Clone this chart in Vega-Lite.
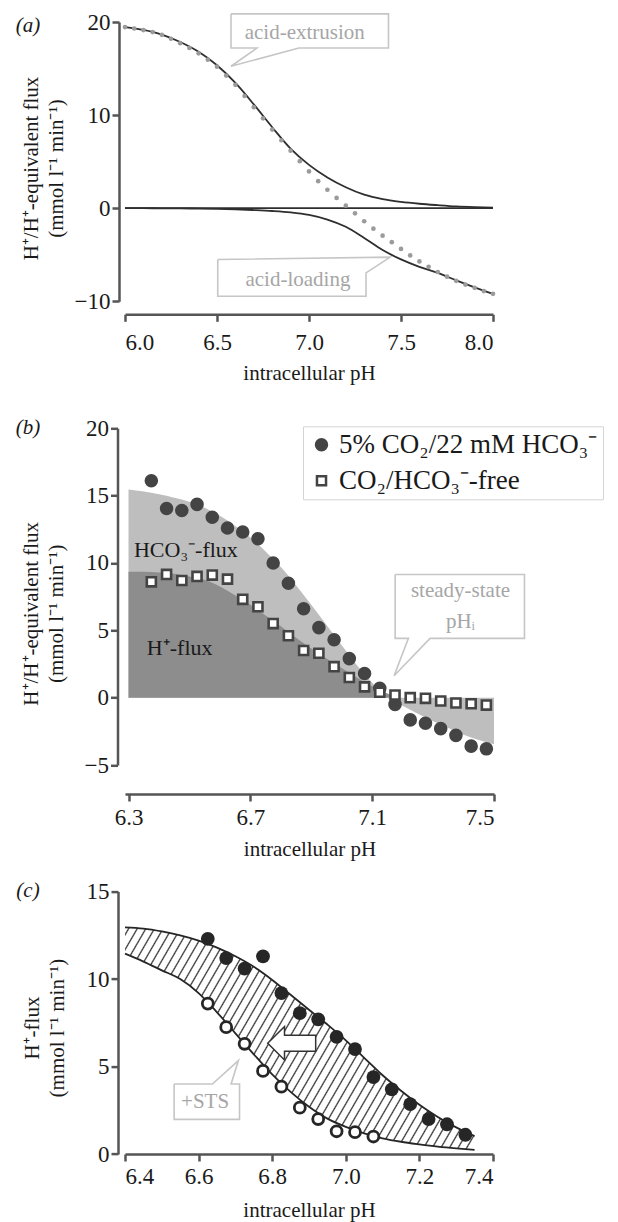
{
  "$schema": "https://vega.github.io/schema/vega-lite/v6.json",
  "background": "white",
  "padding": {"left": 15, "top": 10, "right": 0, "bottom": 2},
  "config": {
    "view": {"stroke": null},
    "font": "Liberation Serif",
    "axis": {"grid": false, "domainColor": "#555555", "domainWidth": 2.5, "tickColor": "#555555", "tickWidth": 2.5, "tickSize": 7, "labelFont": "Liberation Serif", "labelFontSize": 23, "labelColor": "#1a1a1a", "titleFont": "Liberation Serif", "titleFontSize": 21, "titleFontWeight": "normal", "titleColor": "#1a1a1a", "labelPadding": 2, "titleLineHeight": 25}
  },
  "datasets": {
    "a_curves": [
      {"curve": "ext", "pH": 6.0, "v": 19.45}, {"curve": "ext", "pH": 6.1, "v": 19.15}, {"curve": "ext", "pH": 6.2, "v": 18.65}, {"curve": "ext", "pH": 6.3, "v": 17.85}, {"curve": "ext", "pH": 6.4, "v": 16.8}, {"curve": "ext", "pH": 6.5, "v": 15.35}, {"curve": "ext", "pH": 6.6, "v": 13.45}, {"curve": "ext", "pH": 6.7, "v": 11.15}, {"curve": "ext", "pH": 6.8, "v": 8.7}, {"curve": "ext", "pH": 6.9, "v": 6.4}, {"curve": "ext", "pH": 7.0, "v": 4.65}, {"curve": "ext", "pH": 7.1, "v": 3.3}, {"curve": "ext", "pH": 7.2, "v": 2.25}, {"curve": "ext", "pH": 7.3, "v": 1.45}, {"curve": "ext", "pH": 7.4, "v": 0.97}, {"curve": "ext", "pH": 7.5, "v": 0.68}, {"curve": "ext", "pH": 7.6, "v": 0.48}, {"curve": "ext", "pH": 7.7, "v": 0.33}, {"curve": "ext", "pH": 7.8, "v": 0.2}, {"curve": "ext", "pH": 7.9, "v": 0.12}, {"curve": "ext", "pH": 8.0, "v": 0.07},
      {"curve": "load", "pH": 6.0, "v": 0}, {"curve": "load", "pH": 6.1, "v": 0}, {"curve": "load", "pH": 6.2, "v": -0.01}, {"curve": "load", "pH": 6.3, "v": -0.02}, {"curve": "load", "pH": 6.4, "v": -0.04}, {"curve": "load", "pH": 6.5, "v": -0.07}, {"curve": "load", "pH": 6.6, "v": -0.12}, {"curve": "load", "pH": 6.7, "v": -0.2}, {"curve": "load", "pH": 6.8, "v": -0.3}, {"curve": "load", "pH": 6.9, "v": -0.45}, {"curve": "load", "pH": 7.0, "v": -0.72}, {"curve": "load", "pH": 7.1, "v": -1.22}, {"curve": "load", "pH": 7.2, "v": -2.0}, {"curve": "load", "pH": 7.3, "v": -3.2}, {"curve": "load", "pH": 7.4, "v": -4.5}, {"curve": "load", "pH": 7.5, "v": -5.5}, {"curve": "load", "pH": 7.6, "v": -6.3}, {"curve": "load", "pH": 7.7, "v": -6.95}, {"curve": "load", "pH": 7.8, "v": -7.75}, {"curve": "load", "pH": 7.9, "v": -8.5}, {"curve": "load", "pH": 8.0, "v": -9.2},
      {"curve": "zero", "pH": 6.0, "v": 0}, {"curve": "zero", "pH": 8.0, "v": 0}
    ],
    "a_dots": [
      {"pH": 6.0, "v": 19.45}, {"pH": 6.05, "v": 19.3}, {"pH": 6.1, "v": 19.13}, {"pH": 6.15, "v": 18.92}, {"pH": 6.2, "v": 18.62}, {"pH": 6.25, "v": 18.2}, {"pH": 6.3, "v": 17.73}, {"pH": 6.35, "v": 17.22}, {"pH": 6.4, "v": 16.63}, {"pH": 6.45, "v": 15.95}, {"pH": 6.5, "v": 15.2}, {"pH": 6.55, "v": 14.25}, {"pH": 6.6, "v": 13.25}, {"pH": 6.65, "v": 12.05}, {"pH": 6.7, "v": 10.85}, {"pH": 6.75, "v": 9.65}, {"pH": 6.8, "v": 8.45}, {"pH": 6.85, "v": 7.3}, {"pH": 6.9, "v": 6.18}, {"pH": 6.95, "v": 5.05}, {"pH": 7.0, "v": 3.95}, {"pH": 7.05, "v": 2.9}, {"pH": 7.1, "v": 1.98}, {"pH": 7.15, "v": 1.1}, {"pH": 7.2, "v": 0.27}, {"pH": 7.25, "v": -0.55}, {"pH": 7.3, "v": -1.4}, {"pH": 7.35, "v": -2.2}, {"pH": 7.4, "v": -2.95}, {"pH": 7.45, "v": -3.65}, {"pH": 7.5, "v": -4.37}, {"pH": 7.55, "v": -5.07}, {"pH": 7.6, "v": -5.72}, {"pH": 7.65, "v": -6.3}, {"pH": 7.7, "v": -6.85}, {"pH": 7.75, "v": -7.35}, {"pH": 7.8, "v": -7.8}, {"pH": 7.85, "v": -8.2}, {"pH": 7.9, "v": -8.55}, {"pH": 7.95, "v": -8.9}, {"pH": 8.0, "v": -9.2}
    ],
    "a_boxes": [
      {"box": "ext", "i": 0, "pH": 6.576, "v": 20.87}, {"box": "ext", "i": 1, "pH": 7.432, "v": 20.87}, {"box": "ext", "i": 2, "pH": 7.432, "v": 17.2}, {"box": "ext", "i": 3, "pH": 6.945, "v": 17.2}, {"box": "ext", "i": 4, "pH": 6.576, "v": 15.25}, {"box": "ext", "i": 5, "pH": 6.717, "v": 17.2}, {"box": "ext", "i": 6, "pH": 6.576, "v": 17.2}, {"box": "ext", "i": 7, "pH": 6.576, "v": 20.87},
      {"box": "load", "i": 0, "pH": 6.504, "v": -5.51}, {"box": "load", "i": 1, "pH": 7.441, "v": -5.26}, {"box": "load", "i": 2, "pH": 7.31, "v": -6.95}, {"box": "load", "i": 3, "pH": 7.31, "v": -9.45}, {"box": "load", "i": 4, "pH": 6.504, "v": -9.45}, {"box": "load", "i": 5, "pH": 6.504, "v": -5.51}
    ],
    "a_notes": [
      {"pH": 6.977, "v": 18.83, "label": "acid-extrusion"},
      {"pH": 6.94, "v": -7.66, "label": "acid-loading"}
    ],
    "b_light": [
      {"pH": 6.3, "v": 15.45}, {"pH": 6.35, "v": 15.3}, {"pH": 6.4, "v": 15.1}, {"pH": 6.45, "v": 14.85}, {"pH": 6.5, "v": 14.55}, {"pH": 6.55, "v": 14.1}, {"pH": 6.6, "v": 13.5}, {"pH": 6.65, "v": 12.75}, {"pH": 6.7, "v": 11.9}, {"pH": 6.75, "v": 10.85}, {"pH": 6.8, "v": 9.7}, {"pH": 6.85, "v": 8.35}, {"pH": 6.9, "v": 6.9}, {"pH": 6.95, "v": 5.4}, {"pH": 7.0, "v": 3.9}, {"pH": 7.05, "v": 2.4}, {"pH": 7.1, "v": 1.1}, {"pH": 7.15, "v": 0.0}, {"pH": 7.2, "v": -0.6}, {"pH": 7.25, "v": -1.2}, {"pH": 7.3, "v": -1.75}, {"pH": 7.35, "v": -2.25}, {"pH": 7.4, "v": -2.75}, {"pH": 7.45, "v": -3.15}, {"pH": 7.5, "v": -3.45}
    ],
    "b_dark": [
      {"pH": 6.3, "v": 9.35}, {"pH": 6.35, "v": 9.35}, {"pH": 6.4, "v": 9.3}, {"pH": 6.45, "v": 9.2}, {"pH": 6.5, "v": 9.0}, {"pH": 6.55, "v": 8.75}, {"pH": 6.6, "v": 8.25}, {"pH": 6.65, "v": 7.6}, {"pH": 6.7, "v": 6.9}, {"pH": 6.75, "v": 6.1}, {"pH": 6.8, "v": 5.3}, {"pH": 6.85, "v": 4.45}, {"pH": 6.9, "v": 3.65}, {"pH": 6.95, "v": 2.9}, {"pH": 7.0, "v": 2.2}, {"pH": 7.05, "v": 1.5}, {"pH": 7.1, "v": 0.85}, {"pH": 7.15, "v": 0.3}, {"pH": 7.18, "v": 0.0}
    ],
    "b_pts": [
      {"cond": "5% CO₂/22 mM HCO₃⁻", "pH": 6.375, "v": 16.1}, {"cond": "5% CO₂/22 mM HCO₃⁻", "pH": 6.425, "v": 14.05}, {"cond": "5% CO₂/22 mM HCO₃⁻", "pH": 6.475, "v": 13.9}, {"cond": "5% CO₂/22 mM HCO₃⁻", "pH": 6.525, "v": 14.35}, {"cond": "5% CO₂/22 mM HCO₃⁻", "pH": 6.575, "v": 13.4}, {"cond": "5% CO₂/22 mM HCO₃⁻", "pH": 6.625, "v": 12.6}, {"cond": "5% CO₂/22 mM HCO₃⁻", "pH": 6.675, "v": 12.3}, {"cond": "5% CO₂/22 mM HCO₃⁻", "pH": 6.725, "v": 11.8}, {"cond": "5% CO₂/22 mM HCO₃⁻", "pH": 6.775, "v": 10.0}, {"cond": "5% CO₂/22 mM HCO₃⁻", "pH": 6.825, "v": 8.5}, {"cond": "5% CO₂/22 mM HCO₃⁻", "pH": 6.875, "v": 6.6}, {"cond": "5% CO₂/22 mM HCO₃⁻", "pH": 6.925, "v": 5.2}, {"cond": "5% CO₂/22 mM HCO₃⁻", "pH": 6.975, "v": 4.3}, {"cond": "5% CO₂/22 mM HCO₃⁻", "pH": 7.025, "v": 2.9}, {"cond": "5% CO₂/22 mM HCO₃⁻", "pH": 7.075, "v": 1.8}, {"cond": "5% CO₂/22 mM HCO₃⁻", "pH": 7.125, "v": 0.7}, {"cond": "5% CO₂/22 mM HCO₃⁻", "pH": 7.175, "v": -0.5}, {"cond": "5% CO₂/22 mM HCO₃⁻", "pH": 7.225, "v": -1.65}, {"cond": "5% CO₂/22 mM HCO₃⁻", "pH": 7.275, "v": -1.9}, {"cond": "5% CO₂/22 mM HCO₃⁻", "pH": 7.325, "v": -2.3}, {"cond": "5% CO₂/22 mM HCO₃⁻", "pH": 7.375, "v": -2.8}, {"cond": "5% CO₂/22 mM HCO₃⁻", "pH": 7.425, "v": -3.6}, {"cond": "5% CO₂/22 mM HCO₃⁻", "pH": 7.475, "v": -3.8},
      {"cond": "CO₂/HCO₃⁻-free", "pH": 6.375, "v": 8.6}, {"cond": "CO₂/HCO₃⁻-free", "pH": 6.425, "v": 9.15}, {"cond": "CO₂/HCO₃⁻-free", "pH": 6.475, "v": 8.7}, {"cond": "CO₂/HCO₃⁻-free", "pH": 6.525, "v": 9.0}, {"cond": "CO₂/HCO₃⁻-free", "pH": 6.575, "v": 9.1}, {"cond": "CO₂/HCO₃⁻-free", "pH": 6.625, "v": 8.8}, {"cond": "CO₂/HCO₃⁻-free", "pH": 6.675, "v": 7.3}, {"cond": "CO₂/HCO₃⁻-free", "pH": 6.725, "v": 6.75}, {"cond": "CO₂/HCO₃⁻-free", "pH": 6.775, "v": 5.5}, {"cond": "CO₂/HCO₃⁻-free", "pH": 6.825, "v": 4.6}, {"cond": "CO₂/HCO₃⁻-free", "pH": 6.875, "v": 3.5}, {"cond": "CO₂/HCO₃⁻-free", "pH": 6.925, "v": 3.3}, {"cond": "CO₂/HCO₃⁻-free", "pH": 6.975, "v": 2.3}, {"cond": "CO₂/HCO₃⁻-free", "pH": 7.025, "v": 1.5}, {"cond": "CO₂/HCO₃⁻-free", "pH": 7.075, "v": 0.8}, {"cond": "CO₂/HCO₃⁻-free", "pH": 7.125, "v": 0.4}, {"cond": "CO₂/HCO₃⁻-free", "pH": 7.175, "v": 0.2}, {"cond": "CO₂/HCO₃⁻-free", "pH": 7.225, "v": 0.0}, {"cond": "CO₂/HCO₃⁻-free", "pH": 7.275, "v": -0.05}, {"cond": "CO₂/HCO₃⁻-free", "pH": 7.325, "v": -0.25}, {"cond": "CO₂/HCO₃⁻-free", "pH": 7.375, "v": -0.4}, {"cond": "CO₂/HCO₃⁻-free", "pH": 7.425, "v": -0.45}, {"cond": "CO₂/HCO₃⁻-free", "pH": 7.475, "v": -0.55}
    ],
    "b_box": [
      {"i": 0, "pH": 7.1755, "v": 9.15}, {"i": 1, "pH": 7.6, "v": 9.15}, {"i": 2, "pH": 7.6, "v": 4.4}, {"i": 3, "pH": 7.29, "v": 4.4}, {"i": 4, "pH": 7.172, "v": 1.63}, {"i": 5, "pH": 7.219, "v": 4.4}, {"i": 6, "pH": 7.1755, "v": 4.4}, {"i": 7, "pH": 7.1755, "v": 9.15}
    ],
    "b_notes": [
      {"pH": 7.39, "v": 7.92, "label": "steady-state"},
      {"pH": 7.39, "v": 5.64, "label": "pHᵢ"}
    ],
    "b_labels": [
      {"pH": 6.4885, "v": 10.97, "label": "HCO₃⁻-flux"},
      {"pH": 6.468, "v": 3.66, "label": "H⁺-flux"}
    ],
    "c_band": [
      {"pH": 6.4, "v": 12.95, "v2": 11.45}, {"pH": 6.45, "v": 12.88, "v2": 11.0}, {"pH": 6.5, "v": 12.72, "v2": 10.5}, {"pH": 6.55, "v": 12.5, "v2": 10.0}, {"pH": 6.6, "v": 12.2, "v2": 9.2}, {"pH": 6.65, "v": 11.8, "v2": 8.1}, {"pH": 6.7, "v": 11.3, "v2": 6.9}, {"pH": 6.75, "v": 10.7, "v2": 5.7}, {"pH": 6.8, "v": 9.95, "v2": 4.55}, {"pH": 6.85, "v": 9.1, "v2": 3.55}, {"pH": 6.9, "v": 8.25, "v2": 2.7}, {"pH": 6.95, "v": 7.4, "v2": 2.02}, {"pH": 7.0, "v": 6.5, "v2": 1.55}, {"pH": 7.05, "v": 5.5, "v2": 1.18}, {"pH": 7.1, "v": 4.5, "v2": 0.9}, {"pH": 7.15, "v": 3.62, "v2": 0.7}, {"pH": 7.2, "v": 2.82, "v2": 0.55}, {"pH": 7.25, "v": 2.12, "v2": 0.42}, {"pH": 7.3, "v": 1.52, "v2": 0.32}, {"pH": 7.35, "v": 1.02, "v2": 0.24}
    ],
    "c_lines": [
      {"curve": "upper", "pH": 6.4, "v": 12.95}, {"curve": "upper", "pH": 6.45, "v": 12.88}, {"curve": "upper", "pH": 6.5, "v": 12.72}, {"curve": "upper", "pH": 6.55, "v": 12.5}, {"curve": "upper", "pH": 6.6, "v": 12.2}, {"curve": "upper", "pH": 6.65, "v": 11.8}, {"curve": "upper", "pH": 6.7, "v": 11.3}, {"curve": "upper", "pH": 6.75, "v": 10.7}, {"curve": "upper", "pH": 6.8, "v": 9.95}, {"curve": "upper", "pH": 6.85, "v": 9.1}, {"curve": "upper", "pH": 6.9, "v": 8.25}, {"curve": "upper", "pH": 6.95, "v": 7.4}, {"curve": "upper", "pH": 7.0, "v": 6.5}, {"curve": "upper", "pH": 7.05, "v": 5.5}, {"curve": "upper", "pH": 7.1, "v": 4.5}, {"curve": "upper", "pH": 7.15, "v": 3.62}, {"curve": "upper", "pH": 7.2, "v": 2.82}, {"curve": "upper", "pH": 7.25, "v": 2.12}, {"curve": "upper", "pH": 7.3, "v": 1.52}, {"curve": "upper", "pH": 7.35, "v": 1.02},
      {"curve": "lower", "pH": 6.4, "v": 11.45}, {"curve": "lower", "pH": 6.45, "v": 11.0}, {"curve": "lower", "pH": 6.5, "v": 10.5}, {"curve": "lower", "pH": 6.55, "v": 10.0}, {"curve": "lower", "pH": 6.6, "v": 9.2}, {"curve": "lower", "pH": 6.65, "v": 8.1}, {"curve": "lower", "pH": 6.7, "v": 6.9}, {"curve": "lower", "pH": 6.75, "v": 5.7}, {"curve": "lower", "pH": 6.8, "v": 4.55}, {"curve": "lower", "pH": 6.85, "v": 3.55}, {"curve": "lower", "pH": 6.9, "v": 2.7}, {"curve": "lower", "pH": 6.95, "v": 2.02}, {"curve": "lower", "pH": 7.0, "v": 1.55}, {"curve": "lower", "pH": 7.05, "v": 1.18}, {"curve": "lower", "pH": 7.1, "v": 0.9}, {"curve": "lower", "pH": 7.15, "v": 0.7}, {"curve": "lower", "pH": 7.2, "v": 0.55}, {"curve": "lower", "pH": 7.25, "v": 0.42}, {"curve": "lower", "pH": 7.3, "v": 0.32}, {"curve": "lower", "pH": 7.35, "v": 0.24}
    ],
    "c_ctrl": [
      {"pH": 6.625, "v": 12.3}, {"pH": 6.675, "v": 11.2}, {"pH": 6.725, "v": 10.6}, {"pH": 6.775, "v": 11.3}, {"pH": 6.825, "v": 9.2}, {"pH": 6.875, "v": 8.05}, {"pH": 6.925, "v": 7.7}, {"pH": 6.975, "v": 6.7}, {"pH": 7.025, "v": 6.0}, {"pH": 7.075, "v": 4.4}, {"pH": 7.125, "v": 3.7}, {"pH": 7.175, "v": 2.85}, {"pH": 7.225, "v": 2.0}, {"pH": 7.275, "v": 1.7}, {"pH": 7.325, "v": 1.1}
    ],
    "c_sts": [
      {"pH": 6.625, "v": 8.6}, {"pH": 6.675, "v": 7.25}, {"pH": 6.725, "v": 6.3}, {"pH": 6.775, "v": 4.75}, {"pH": 6.825, "v": 3.85}, {"pH": 6.875, "v": 2.65}, {"pH": 6.925, "v": 2.0}, {"pH": 6.975, "v": 1.3}, {"pH": 7.025, "v": 1.25}, {"pH": 7.075, "v": 1.0}
    ],
    "c_box": [
      {"i": 0, "pH": 6.5335, "v": 4.0}, {"i": 1, "pH": 6.6375, "v": 4.0}, {"i": 2, "pH": 6.7081, "v": 5.34}, {"i": 3, "pH": 6.6884, "v": 4.0}, {"i": 4, "pH": 6.7112, "v": 4.0}, {"i": 5, "pH": 6.7112, "v": 1.98}, {"i": 6, "pH": 6.5335, "v": 1.98}, {"i": 7, "pH": 6.5335, "v": 4.0}
    ]
  },
  "vconcat": [
    {
      "width": 368,
      "height": 279.3,
      "encoding": {
        "x": {"field": "pH", "type": "quantitative", "scale": {"domain": [6, 8], "nice": false, "zero": false}, "axis": {"values": [6, 6.5, 7, 7.5, 8], "format": ".1f", "offset": 13, "title": "intracellular pH", "labelPadding": 10, "titlePadding": 8}},
        "y": {"field": "v", "type": "quantitative", "scale": {"domain": [-10, 20], "nice": false, "zero": false}, "axis": {"values": [-10, 0, 10, 20], "offset": 6, "title": ["H⁺/H⁺-equivalent flux", "(mmol l⁻¹ min⁻¹)"], "titlePadding": 8, "titleY": 146}}
      },
      "layer": [
        {"data": {"name": "a_curves"}, "mark": {"type": "line", "color": "#2e2e2e", "strokeWidth": 1.8, "interpolate": "monotone"}, "encoding": {"detail": {"field": "curve"}}},
        {"data": {"name": "a_dots"}, "mark": {"type": "point", "filled": true, "color": "#9b9b9b", "size": 22, "opacity": 1}},
        {"data": {"name": "a_boxes"}, "mark": {"type": "line", "color": "#c6c6c6", "strokeWidth": 1.6}, "encoding": {"detail": {"field": "box"}, "order": {"field": "i"}}},
        {"data": {"name": "a_notes"}, "mark": {"type": "text", "color": "#a6a6a6", "fontSize": 21, "font": "Liberation Serif"}, "encoding": {"text": {"field": "label"}}},
        {"data": {"values": [{"pH": 5.473, "v": 19.55, "label": "(a)"}]}, "mark": {"type": "text", "color": "#1a1a1a", "fontSize": 21, "fontStyle": "italic", "font": "Liberation Serif"}, "encoding": {"text": {"field": "label"}}}
      ]
    },
    {
      "width": 369,
      "height": 336.7,
      "encoding": {
        "x": {"field": "pH", "type": "quantitative", "scale": {"domain": [6.2885, 7.5], "nice": false, "zero": false}, "axis": {"values": [6.3, 6.7, 7.1, 7.5], "format": ".1f", "offset": 29, "title": "intracellular pH", "labelPadding": 5, "titlePadding": 9}},
        "y": {"field": "v", "type": "quantitative", "scale": {"domain": [-5, 20], "nice": false, "zero": false}, "axis": {"values": [-5, 0, 5, 10, 15, 20], "offset": 7.5, "title": ["H⁺/H⁺-equivalent flux", "(mmol l⁻¹ min⁻¹)"], "titlePadding": 18, "titleY": 185}}
      },
      "layer": [
        {"data": {"name": "b_light"}, "mark": {"type": "area", "color": "#bebebe", "opacity": 1, "interpolate": "monotone"}, "encoding": {"y2": {"datum": 0}}},
        {"data": {"name": "b_dark"}, "mark": {"type": "area", "color": "#8d8d8d", "opacity": 1, "interpolate": "monotone"}, "encoding": {"y2": {"datum": 0}}},
        {"data": {"name": "b_labels"}, "mark": {"type": "text", "color": "#1a1a1a", "fontSize": 22, "font": "Liberation Serif"}, "encoding": {"text": {"field": "label"}}},
        {"data": {"name": "b_box"}, "mark": {"type": "line", "color": "#c6c6c6", "strokeWidth": 1.6}, "encoding": {"order": {"field": "i"}}},
        {"data": {"name": "b_notes"}, "mark": {"type": "text", "color": "#a6a6a6", "fontSize": 21, "font": "Liberation Serif"}, "encoding": {"text": {"field": "label"}}},
        {"data": {"name": "b_pts"}, "mark": {"type": "point", "filled": true, "stroke": "#444444", "strokeWidth": 2.6, "opacity": 1},
          "encoding": {
            "shape": {"field": "cond", "type": "nominal", "scale": {"domain": ["5% CO₂/22 mM HCO₃⁻", "CO₂/HCO₃⁻-free"], "range": ["circle", "square"]},
              "legend": {"orient": "none", "legendX": 178, "legendY": 404.3, "title": null, "padding": 5, "strokeColor": "#d4d4d4", "fillColor": "white", "labelFont": "Liberation Serif", "labelFontSize": 27, "labelColor": "#1a1a1a", "rowPadding": 8, "labelOffset": 4, "labelLimit": 400, "symbolStrokeColor": "#444444", "symbolStrokeWidth": 2.5, "symbolOpacity": 1}},
            "fill": {"field": "cond", "type": "nominal", "scale": {"domain": ["5% CO₂/22 mM HCO₃⁻", "CO₂/HCO₃⁻-free"], "range": ["#444444", "#ffffff"]}},
            "size": {"field": "cond", "type": "nominal", "scale": {"domain": ["5% CO₂/22 mM HCO₃⁻", "CO₂/HCO₃⁻-free"], "range": [120, 82]}}
          }},
        {"data": {"values": [{"pH": 5.97, "v": 20.0, "label": "(b)"}]}, "mark": {"type": "text", "color": "#1a1a1a", "fontSize": 21, "fontStyle": "italic", "font": "Liberation Serif"}, "encoding": {"text": {"field": "label"}}}
      ]
    },
    {
      "width": 368,
      "height": 262.4,
      "encoding": {
        "x": {"field": "pH", "type": "quantitative", "scale": {"domain": [6.4, 7.4], "nice": false, "zero": false}, "axis": {"values": [6.4, 6.6, 6.8, 7.0, 7.2, 7.4], "format": ".1f", "offset": 0, "title": "intracellular pH", "labelPadding": 4, "titlePadding": 11}},
        "y": {"field": "v", "type": "quantitative", "scale": {"domain": [0, 15], "nice": false, "zero": false}, "axis": {"values": [0, 5, 10, 15], "offset": 7, "title": ["H⁺-flux", "(mmol l⁻¹ min⁻¹)"], "titlePadding": 19, "titleY": 136}}
      },
      "layer": [
        {"data": {"name": "c_band"}, "mark": {"type": "area", "interpolate": "monotone", "opacity": 1,
          "fill": {"gradient": "linear", "x1": 0, "y1": 0, "x2": 1.205, "y2": 0.4434, "stops": [
            {"offset": 0, "color": "#fff"},
            {"offset": 0.006, "color": "#fff"}, {"offset": 0.009, "color": "#333"}, {"offset": 0.012, "color": "#fff"},
            {"offset": 0.024, "color": "#fff"}, {"offset": 0.027, "color": "#333"}, {"offset": 0.030, "color": "#fff"},
            {"offset": 0.042, "color": "#fff"}, {"offset": 0.045, "color": "#333"}, {"offset": 0.048, "color": "#fff"},
            {"offset": 0.060, "color": "#fff"}, {"offset": 0.063, "color": "#333"}, {"offset": 0.066, "color": "#fff"},
            {"offset": 0.078, "color": "#fff"}, {"offset": 0.081, "color": "#333"}, {"offset": 0.084, "color": "#fff"},
            {"offset": 0.096, "color": "#fff"}, {"offset": 0.099, "color": "#333"}, {"offset": 0.102, "color": "#fff"},
            {"offset": 0.114, "color": "#fff"}, {"offset": 0.117, "color": "#333"}, {"offset": 0.120, "color": "#fff"},
            {"offset": 0.132, "color": "#fff"}, {"offset": 0.135, "color": "#333"}, {"offset": 0.138, "color": "#fff"},
            {"offset": 0.150, "color": "#fff"}, {"offset": 0.153, "color": "#333"}, {"offset": 0.156, "color": "#fff"},
            {"offset": 0.168, "color": "#fff"}, {"offset": 0.171, "color": "#333"}, {"offset": 0.174, "color": "#fff"},
            {"offset": 0.186, "color": "#fff"}, {"offset": 0.189, "color": "#333"}, {"offset": 0.192, "color": "#fff"},
            {"offset": 0.204, "color": "#fff"}, {"offset": 0.207, "color": "#333"}, {"offset": 0.210, "color": "#fff"},
            {"offset": 0.222, "color": "#fff"}, {"offset": 0.225, "color": "#333"}, {"offset": 0.228, "color": "#fff"},
            {"offset": 0.240, "color": "#fff"}, {"offset": 0.243, "color": "#333"}, {"offset": 0.246, "color": "#fff"},
            {"offset": 0.258, "color": "#fff"}, {"offset": 0.261, "color": "#333"}, {"offset": 0.264, "color": "#fff"},
            {"offset": 0.276, "color": "#fff"}, {"offset": 0.279, "color": "#333"}, {"offset": 0.282, "color": "#fff"},
            {"offset": 0.294, "color": "#fff"}, {"offset": 0.297, "color": "#333"}, {"offset": 0.300, "color": "#fff"},
            {"offset": 0.312, "color": "#fff"}, {"offset": 0.315, "color": "#333"}, {"offset": 0.318, "color": "#fff"},
            {"offset": 0.330, "color": "#fff"}, {"offset": 0.333, "color": "#333"}, {"offset": 0.336, "color": "#fff"},
            {"offset": 0.348, "color": "#fff"}, {"offset": 0.351, "color": "#333"}, {"offset": 0.354, "color": "#fff"},
            {"offset": 0.366, "color": "#fff"}, {"offset": 0.369, "color": "#333"}, {"offset": 0.372, "color": "#fff"},
            {"offset": 0.384, "color": "#fff"}, {"offset": 0.387, "color": "#333"}, {"offset": 0.390, "color": "#fff"},
            {"offset": 0.402, "color": "#fff"}, {"offset": 0.405, "color": "#333"}, {"offset": 0.408, "color": "#fff"},
            {"offset": 0.420, "color": "#fff"}, {"offset": 0.423, "color": "#333"}, {"offset": 0.426, "color": "#fff"},
            {"offset": 0.438, "color": "#fff"}, {"offset": 0.441, "color": "#333"}, {"offset": 0.444, "color": "#fff"},
            {"offset": 0.456, "color": "#fff"}, {"offset": 0.459, "color": "#333"}, {"offset": 0.462, "color": "#fff"},
            {"offset": 0.474, "color": "#fff"}, {"offset": 0.477, "color": "#333"}, {"offset": 0.480, "color": "#fff"},
            {"offset": 0.492, "color": "#fff"}, {"offset": 0.495, "color": "#333"}, {"offset": 0.498, "color": "#fff"},
            {"offset": 0.510, "color": "#fff"}, {"offset": 0.513, "color": "#333"}, {"offset": 0.516, "color": "#fff"},
            {"offset": 0.528, "color": "#fff"}, {"offset": 0.531, "color": "#333"}, {"offset": 0.534, "color": "#fff"},
            {"offset": 0.546, "color": "#fff"}, {"offset": 0.549, "color": "#333"}, {"offset": 0.552, "color": "#fff"},
            {"offset": 0.564, "color": "#fff"}, {"offset": 0.567, "color": "#333"}, {"offset": 0.570, "color": "#fff"},
            {"offset": 0.582, "color": "#fff"}, {"offset": 0.585, "color": "#333"}, {"offset": 0.588, "color": "#fff"},
            {"offset": 0.600, "color": "#fff"}, {"offset": 0.603, "color": "#333"}, {"offset": 0.606, "color": "#fff"},
            {"offset": 0.618, "color": "#fff"}, {"offset": 0.621, "color": "#333"}, {"offset": 0.624, "color": "#fff"},
            {"offset": 0.636, "color": "#fff"}, {"offset": 0.639, "color": "#333"}, {"offset": 0.642, "color": "#fff"},
            {"offset": 0.654, "color": "#fff"}, {"offset": 0.657, "color": "#333"}, {"offset": 0.660, "color": "#fff"},
            {"offset": 0.672, "color": "#fff"}, {"offset": 0.675, "color": "#333"}, {"offset": 0.678, "color": "#fff"},
            {"offset": 0.690, "color": "#fff"}, {"offset": 0.693, "color": "#333"}, {"offset": 0.696, "color": "#fff"},
            {"offset": 0.708, "color": "#fff"}, {"offset": 0.711, "color": "#333"}, {"offset": 0.714, "color": "#fff"},
            {"offset": 0.726, "color": "#fff"}, {"offset": 0.729, "color": "#333"}, {"offset": 0.732, "color": "#fff"},
            {"offset": 0.744, "color": "#fff"}, {"offset": 0.747, "color": "#333"}, {"offset": 0.750, "color": "#fff"},
            {"offset": 0.762, "color": "#fff"}, {"offset": 0.765, "color": "#333"}, {"offset": 0.768, "color": "#fff"},
            {"offset": 0.780, "color": "#fff"}, {"offset": 0.783, "color": "#333"}, {"offset": 0.786, "color": "#fff"},
            {"offset": 0.798, "color": "#fff"}, {"offset": 0.801, "color": "#333"}, {"offset": 0.804, "color": "#fff"},
            {"offset": 0.816, "color": "#fff"}, {"offset": 0.819, "color": "#333"}, {"offset": 0.822, "color": "#fff"},
            {"offset": 0.834, "color": "#fff"}, {"offset": 0.837, "color": "#333"}, {"offset": 0.840, "color": "#fff"},
            {"offset": 0.852, "color": "#fff"}, {"offset": 0.855, "color": "#333"}, {"offset": 0.858, "color": "#fff"},
            {"offset": 0.870, "color": "#fff"}, {"offset": 0.873, "color": "#333"}, {"offset": 0.876, "color": "#fff"},
            {"offset": 0.888, "color": "#fff"}, {"offset": 0.891, "color": "#333"}, {"offset": 0.894, "color": "#fff"},
            {"offset": 0.906, "color": "#fff"}, {"offset": 0.909, "color": "#333"}, {"offset": 0.912, "color": "#fff"},
            {"offset": 0.924, "color": "#fff"}, {"offset": 0.927, "color": "#333"}, {"offset": 0.930, "color": "#fff"},
            {"offset": 0.942, "color": "#fff"}, {"offset": 0.945, "color": "#333"}, {"offset": 0.948, "color": "#fff"},
            {"offset": 0.960, "color": "#fff"}, {"offset": 0.963, "color": "#333"}, {"offset": 0.966, "color": "#fff"},
            {"offset": 0.978, "color": "#fff"}, {"offset": 0.981, "color": "#333"}, {"offset": 0.984, "color": "#fff"},
            {"offset": 1, "color": "#fff"}
          ]}}, "encoding": {"y2": {"field": "v2"}}},
        {"data": {"name": "c_lines"}, "mark": {"type": "line", "color": "#262626", "strokeWidth": 1.8, "interpolate": "monotone"}, "encoding": {"detail": {"field": "curve"}}},
        {"data": {"name": "c_ctrl"}, "mark": {"type": "point", "filled": true, "color": "#262626", "size": 190, "opacity": 1}},
        {"data": {"name": "c_sts"}, "mark": {"type": "point", "filled": true, "fill": "white", "stroke": "#262626", "strokeWidth": 2.8, "size": 120, "opacity": 1}},
        {"data": {"values": [{"pH": 6.853, "v": 6.33}]}, "mark": {"type": "point", "shape": "M -1 0 L -0.3 -0.7 L -0.3 -0.33 L 1 -0.33 L 1 0.33 L -0.3 0.33 L -0.3 0.7 Z", "size": 2300, "filled": true, "fill": "white", "stroke": "#333333", "strokeWidth": 1.5, "opacity": 1}},
        {"data": {"name": "c_box"}, "mark": {"type": "line", "color": "#c6c6c6", "strokeWidth": 1.6}, "encoding": {"order": {"field": "i"}}},
        {"data": {"values": [{"pH": 6.6177, "v": 2.96, "label": "+STS"}]}, "mark": {"type": "text", "color": "#a6a6a6", "fontSize": 21, "font": "Liberation Serif"}, "encoding": {"text": {"field": "label"}}},
        {"data": {"values": [{"pH": 6.1364, "v": 15.06, "label": "(c)"}]}, "mark": {"type": "text", "color": "#1a1a1a", "fontSize": 21, "fontStyle": "italic", "font": "Liberation Serif"}, "encoding": {"text": {"field": "label"}}}
      ]
    }
  ],
  "spacing": 126.3,
  "bounds": "flush"
}
